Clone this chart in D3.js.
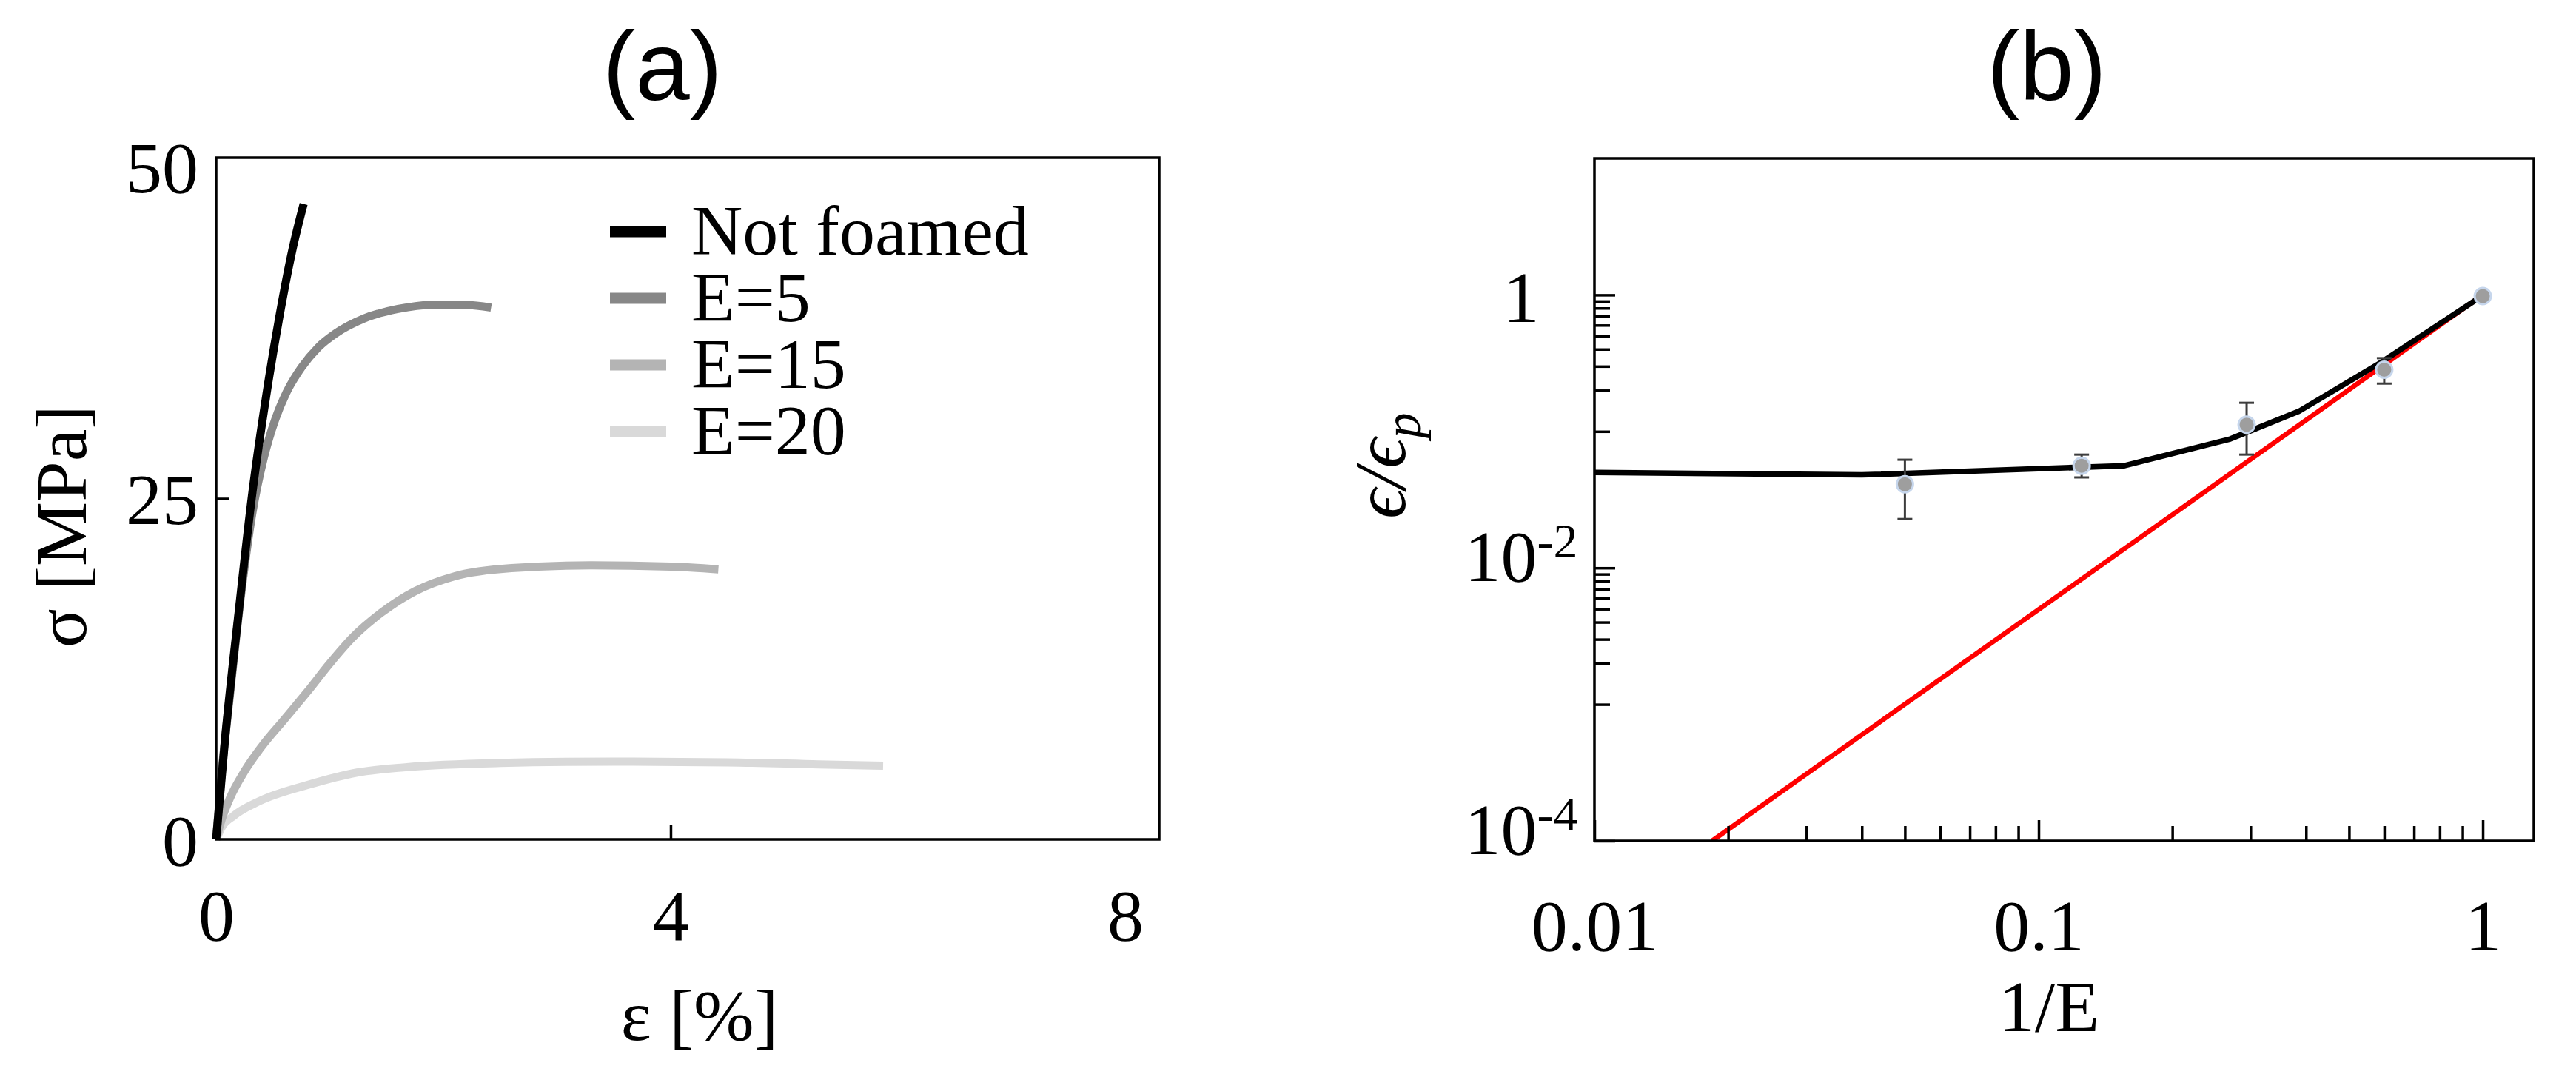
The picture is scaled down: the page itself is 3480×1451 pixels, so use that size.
<!DOCTYPE html>
<html>
<head>
<meta charset="utf-8">
<script src="https://cdn.jsdelivr.net/npm/d3@7"></script>
<style>
  html, body { margin: 0; padding: 0; background: #fff; }
  svg { display: block; }
</style>
</head>
<body>
<svg id="chart" width="3480" height="1451"></svg>
<script>
// (a) stress-strain curves, strain in %, stress in MPa
const strainNF = [0, 0.08, 0.2, 0.32, 0.44, 0.56, 0.67, 0.77];
const stressNF = [0, 7.5, 16.8, 25.5, 32.5, 38.5, 43.2, 46.6];
const strainE5 = [0, 0.05, 0.12, 0.22, 0.32, 0.42, 0.52, 0.62, 0.75, 0.9, 1.05, 1.3, 1.6, 1.9, 2.2, 2.42];
const stressE5 = [0, 5, 10.5, 18, 24, 28, 30.8, 32.8, 34.6, 36.1, 37.1, 38.2, 38.9, 39.2, 39.2, 39.0];
const strainE15 = [0, 0.05, 0.12, 0.25, 0.4, 0.6, 0.8, 1.0, 1.2, 1.45, 1.75, 2.1, 2.6, 3.3, 4.0, 4.42];
const stressE15 = [0, 1.5, 3.0, 5.0, 6.8, 8.8, 10.8, 12.9, 14.8, 16.6, 18.2, 19.3, 19.9, 20.1, 20.0, 19.8];
const strainE20 = [0, 0.05, 0.15, 0.38, 0.81, 1.24, 1.68, 2.5, 3.5, 4.5, 5.3, 5.87];
const stressE20 = [0, 0.9, 1.7, 2.8, 4.0, 4.9, 5.3, 5.6, 5.7, 5.65, 5.5, 5.4];
const seriesNames = ['Not foamed', 'E=5', 'E=15', 'E=20'];
const xTicksA = [0, 4, 8];
const yTicksA = [0, 25, 50];

// (b) normalised strain vs 1/E
const fitInvE = [0.01, 0.04, 0.156, 0.27, 0.385, 0.59, 1.0];
const fitRatio = [0.050, 0.048, 0.056, 0.088, 0.14, 0.32, 0.99];
const ptInvE = [0.05, 0.125, 0.294, 0.6, 1.0];
const ptRatio = [0.041, 0.056, 0.112, 0.283, 0.98];
const ptLow = [0.0228, 0.046, 0.0676, 0.224, 0.95];
const ptHigh = [0.062, 0.0676, 0.162, 0.344, 1.02];
const redInvE = [0.0184, 1];
const redRatio = [1e-4, 1];
const xMajorB = [0.01, 0.1, 1];
const xMinorB = [0.02, 0.03, 0.04, 0.05, 0.06, 0.07, 0.08, 0.09, 0.2, 0.3, 0.4, 0.5, 0.6, 0.7, 0.8, 0.9];
const yMajorB = [1, 1e-2, 1e-4];
const yMinorB = [0.9, 0.8, 0.7, 0.6, 0.5, 0.4, 0.3, 0.2, 0.1, 0.009, 0.008, 0.007, 0.006, 0.005, 0.004, 0.003, 0.002, 0.001];

const SERIF = '"Liberation Serif", "Times New Roman", serif';
const SANS = '"Liberation Sans", Arial, sans-serif';
const svg = d3.select('#chart');
svg.append('rect').attr('width', 3480).attr('height', 1451).attr('fill', '#fff');

const zip = (xs, ys) => xs.map((x, i) => [x, ys[i]]);
const styleAxis = (g, size) => {
    g.select('.domain').remove();
    g.selectAll('.tick line').attr('stroke', '#000').attr('stroke-width', 3.5);
    g.selectAll('text').attr('font-family', SERIF).attr('font-size', size).attr('fill', '#000');
};

// ---------- panel (a) ----------
const A = {left: 292, right: 1566, top: 213, bottom: 1134};
const xA = d3.scaleLinear().domain([0, 8.3]).range([A.left, A.right]);
const yA = d3.scaleLinear().domain([0, 50]).range([A.bottom, A.top]);
const gA = svg.append('g');

const seriesA = [
    {name: seriesNames[0], pts: zip(strainNF, stressNF), color: '#000000'},
    {name: seriesNames[1], pts: zip(strainE5, stressE5), color: '#878787'},
    {name: seriesNames[2], pts: zip(strainE15, stressE15), color: '#b4b4b4'},
    {name: seriesNames[3], pts: zip(strainE20, stressE20), color: '#d9d9d9'}
];
const lineA = d3.line().x(d => xA(d[0])).y(d => yA(d[1])).curve(d3.curveMonotoneX);

gA.selectAll('path.curve')
    .data(seriesA.slice().reverse())
    .enter()
    .append('path')
    .classed('curve', true)
    .attr('d', d => lineA(d.pts))
    .attr('fill', 'none')
    .attr('stroke', d => d.color)
    .attr('stroke-width', 11);

const axA_x = gA.append('g').attr('transform', `translate(0,${A.bottom})`)
    .call(d3.axisBottom(xA).tickValues(xTicksA).tickSizeInner(-20).tickSizeOuter(0).tickFormat(d3.format('d')));
styleAxis(axA_x, 98);
axA_x.selectAll('.tick').filter(d => d !== 4).select('line').remove();
axA_x.selectAll('text').attr('dy', null).attr('y', 136);

const axA_y = gA.append('g').attr('transform', `translate(${A.left},0)`)
    .call(d3.axisLeft(yA).tickValues(yTicksA).tickSizeInner(-18).tickSizeOuter(0).tickFormat(d3.format('d')));
styleAxis(axA_y, 98);
axA_y.selectAll('.tick').filter(d => d !== 25).select('line').remove();
axA_y.selectAll('text').attr('x', -24).attr('dy', '0.35em');
axA_y.selectAll('.tick').filter(d => d === 50).select('text').attr('dy', '0.47em');

gA.append('rect')
    .attr('x', A.left).attr('y', A.top)
    .attr('width', A.right - A.left).attr('height', A.bottom - A.top)
    .attr('fill', 'none').attr('stroke', '#000').attr('stroke-width', 3.5);

// legend
const legend = gA.selectAll('g.legend')
    .data(seriesA)
    .enter()
    .append('g')
    .classed('legend', true)
    .attr('transform', (d, i) => `translate(824,${313 + i * 90})`);
legend.append('line')
    .attr('x1', 0).attr('x2', 76)
    .attr('stroke', d => d.color).attr('stroke-width', 15);
legend.append('text')
    .text(d => d.name)
    .attr('x', 110).attr('y', 31)
    .attr('font-family', SERIF).attr('font-size', 96);

gA.append('text').text('(a)')
    .attr('x', 895).attr('y', 135).attr('text-anchor', 'middle')
    .attr('font-family', SANS).attr('font-size', 132);
gA.append('text').text('ε [%]')
    .attr('x', 945).attr('y', 1405).attr('text-anchor', 'middle')
    .attr('font-family', SERIF).attr('font-size', 98);
gA.append('text').text('σ [MPa]')
    .attr('transform', 'translate(116,711) rotate(-90)')
    .attr('text-anchor', 'middle')
    .attr('font-family', SERIF).attr('font-size', 98);

// ---------- panel (b) ----------
const B = {left: 2154, right: 3423, top: 214, bottom: 1136};
const xB = d3.scaleLog().domain([0.01, 1.303]).range([B.left, B.right]);
const yB = d3.scaleLog().domain([1e-4, 10]).range([B.bottom, B.top]);
const gB = svg.append('g');

gB.append('clipPath').attr('id', 'clipB')
    .append('rect')
    .attr('x', B.left).attr('y', B.top)
    .attr('width', B.right - B.left).attr('height', B.bottom - B.top);

const lineB = d3.line().x(d => xB(d[0])).y(d => yB(d[1]));

gB.append('path')
    .attr('d', lineB(zip(redInvE, redRatio)))
    .attr('clip-path', 'url(#clipB)')
    .attr('fill', 'none').attr('stroke', '#ff0000').attr('stroke-width', 6.5);

gB.append('path')
    .attr('d', lineB(zip(fitInvE, fitRatio)))
    .attr('fill', 'none').attr('stroke', '#000').attr('stroke-width', 7.5)
    .attr('stroke-linejoin', 'round');

const points = ptInvE.map((x, i) => ({x, y: ptRatio[i], lo: ptLow[i], hi: ptHigh[i]}));
const bars = gB.selectAll('g.err')
    .data(points)
    .enter()
    .append('g')
    .classed('err', true)
    .attr('stroke', '#3d3d3d').attr('stroke-width', 3);
bars.append('line')
    .attr('x1', d => xB(d.x)).attr('x2', d => xB(d.x))
    .attr('y1', d => yB(d.lo)).attr('y2', d => yB(d.hi));
bars.append('line')
    .attr('x1', d => xB(d.x) - 10).attr('x2', d => xB(d.x) + 10)
    .attr('y1', d => yB(d.lo)).attr('y2', d => yB(d.lo));
bars.append('line')
    .attr('x1', d => xB(d.x) - 10).attr('x2', d => xB(d.x) + 10)
    .attr('y1', d => yB(d.hi)).attr('y2', d => yB(d.hi));

gB.selectAll('circle.pt')
    .data(points)
    .enter()
    .append('circle')
    .classed('pt', true)
    .attr('cx', d => xB(d.x)).attr('cy', d => yB(d.y))
    .attr('r', 11)
    .attr('fill', '#9e9e9e')
    .attr('stroke', '#c6d6ec').attr('stroke-width', 3);

// axes (ticks point inwards)
const axB_xMinor = gB.append('g').attr('transform', `translate(0,${B.bottom})`)
    .call(d3.axisBottom(xB).tickValues(xMinorB).tickSizeInner(-20).tickSizeOuter(0).tickFormat(''));
styleAxis(axB_xMinor, 98);
const axB_x = gB.append('g').attr('transform', `translate(0,${B.bottom})`)
    .call(d3.axisBottom(xB).tickValues(xMajorB).tickSizeInner(-28).tickSizeOuter(0).tickFormat(d => String(d)));
styleAxis(axB_x, 98);
axB_x.selectAll('text').attr('dy', null).attr('y', 148);

const axB_yMinor = gB.append('g').attr('transform', `translate(${B.left},0)`)
    .call(d3.axisLeft(yB).tickValues(yMinorB).tickSizeInner(-21).tickSizeOuter(0).tickFormat(''));
styleAxis(axB_yMinor, 98);
const axB_y = gB.append('g').attr('transform', `translate(${B.left},0)`)
    .call(d3.axisLeft(yB).tickValues(yMajorB).tickSizeInner(-28).tickSizeOuter(0).tickFormat(''));
styleAxis(axB_y, 98);
axB_y.selectAll('.tick text').each(function(d) {
    const t = d3.select(this).attr('x', -99).attr('text-anchor', 'middle').attr('dy', null);
    if (d === 1) {
        t.attr('y', 36).text('1');
    } else {
        t.attr('y', 17).text('10');
        t.append('tspan').attr('font-size', 66).attr('dy', -32)
            .text('-' + Math.round(-Math.log10(d)));
    }
});

gB.append('rect')
    .attr('x', B.left).attr('y', B.top)
    .attr('width', B.right - B.left).attr('height', B.bottom - B.top)
    .attr('fill', 'none').attr('stroke', '#000').attr('stroke-width', 3.5);

gB.append('text').text('(b)')
    .attr('x', 2765).attr('y', 135).attr('text-anchor', 'middle')
    .attr('font-family', SANS).attr('font-size', 132);
gB.append('text').text('1/E')
    .attr('x', 2768).attr('y', 1393).attr('text-anchor', 'middle')
    .attr('font-family', SERIF).attr('font-size', 98);

const yLabB = gB.append('text')
    .attr('transform', 'translate(1898,629) rotate(-90)')
    .attr('text-anchor', 'middle')
    .attr('font-family', SERIF).attr('font-style', 'italic').attr('font-size', 100);
yLabB.append('tspan').text('ϵ/ϵ');
yLabB.append('tspan').text('p').attr('font-size', 70).attr('dy', 20);
</script>
</body>
</html>
